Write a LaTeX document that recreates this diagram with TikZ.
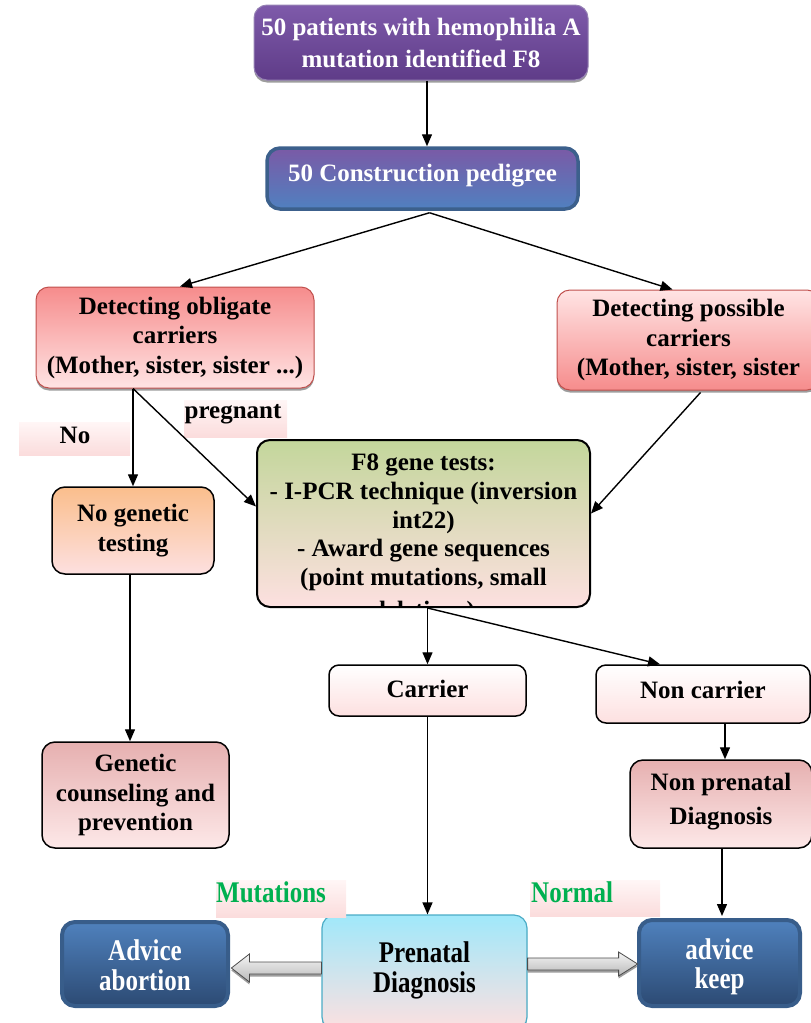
\documentclass[tikz,border=0pt]{standalone}
\usepackage{fontspec}
\setmainfont{Liberation Serif}
\usepackage{graphicx}
\usetikzlibrary{arrows.meta,calc,shadows}

\definecolor{purpT}{RGB}{126,90,170}
\definecolor{purpB}{RGB}{95,60,136}
\definecolor{purpD}{RGB}{150,130,180}
\definecolor{pedT}{RGB}{122,90,166}
\definecolor{pedB}{RGB}{80,128,192}
\definecolor{pedD}{RGB}{60,96,140}
\definecolor{redD}{RGB}{192,80,77}
\definecolor{redM}{RGB}{246,140,140}
\definecolor{pinkL}{RGB}{255,228,228}
\definecolor{greenT}{RGB}{195,214,155}
\definecolor{pinkB}{RGB}{253,224,224}
\definecolor{orangeT}{RGB}{250,190,140}
\definecolor{roseT}{RGB}{230,176,176}
\definecolor{roseB}{RGB}{253,232,232}
\definecolor{cyanT}{RGB}{160,232,250}
\definecolor{cyanD}{RGB}{75,172,198}
\definecolor{blueT}{RGB}{79,129,189}
\definecolor{blueB}{RGB}{44,74,115}
\definecolor{blueD}{RGB}{56,93,138}
\definecolor{lblT}{RGB}{255,246,246}
\definecolor{lblB}{RGB}{251,220,220}
\definecolor{okgreen}{RGB}{0,176,80}

\newcommand\talltext[1]{\scalebox{1}[1.2]{#1}}
% shift text vertically without changing the box it occupies
\newcommand\nudge[2]{\raisebox{#1}[\height][\depth]{#2}}

\begin{document}
\begin{tikzpicture}[x=1pt,y=-1pt,
  font={\bfseries\fontsize{25}{29.5}\selectfont},
  box/.style={rounded corners=13pt, align=center, inner sep=0pt, line width=1.5pt, draw=black},
  softshadow/.style={drop shadow={shadow xshift=0pt, shadow yshift=-2.5pt, fill=black!55, opacity=0.7}},
  conn/.style={line width=1.4pt, -{Triangle[length=12pt,width=10pt]}},
  blockarrow/.style={top color=gray!8, bottom color=gray!55, draw=black!70, line width=0.8pt, softshadow},
  lblbg/.style={inner sep=0pt, top color=lblT, bottom color=lblB},
  greentext/.style={text=okgreen, inner sep=0pt, anchor=west}]

\useasboundingbox (0,0) rectangle (811,1023);

% --- top of the flow ---
\node[box, softshadow, minimum width=334pt, minimum height=75pt, top color=purpT, bottom color=purpB,
      draw=purpD, line width=1pt, text=white, font={\bfseries\fontsize{25}{32}\selectfont}]
  (top) at (421,42.5) {50 patients with hemophilia A\\mutation identified F8};

\node[box, minimum width=311pt, minimum height=61pt, top color=pedT, bottom color=pedB,
      draw=pedD, line width=3.5pt, text=white]
  (ped) at (422.5,178.5) {\nudge{3pt}{50 Construction pedigree}};

% --- carrier detection ---
\node[box, softshadow, minimum width=278pt, minimum height=101pt, top color=redM, bottom color=pinkL,
      draw=redD, line width=1pt]
  (obl) at (175,337.5) {Detecting obligate\\carriers\\(Mother, sister, sister ...)};

\node[box, softshadow, minimum width=263pt, minimum height=100pt, top color=pinkL, bottom color=redM,
      draw=redD, line width=1pt]
  (pos) at (688.5,340) {Detecting possible\\carriers\\(Mother, sister, sister};

% --- gene tests ---
\node[box, minimum width=333pt, minimum height=167pt, top color=greenT, bottom color=pinkB, line width=2pt]
  (f8) at (423.5,523.5) {};
\begin{scope}
  \clip[rounded corners=13pt] (258,441) rectangle (589,605);
  \node[align=center, inner sep=0pt, anchor=north, font={\bfseries\fontsize{25}{28.6}\selectfont}]
    (f8text) at (423.5,454) {F8 gene tests:\\- I-PCR technique (inversion\\int22)\\- Award gene sequences\\(point mutations, small\\[5pt]deletions)};
\end{scope}

\node[box, minimum width=162pt, minimum height=87pt, top color=orangeT, bottom color=pinkB,
      font={\bfseries\fontsize{25}{30}\selectfont}]
  (nogen) at (133,530.5) {No genetic\\testing};

\node[box, minimum width=187pt, minimum height=106pt, top color=roseT, bottom color=roseB]
  (gc) at (135.5,795) {Genetic\\counseling and\\prevention};

% --- results ---
\node[box, rounded corners=10pt, minimum width=197pt, minimum height=51pt, top color=white, bottom color=pinkB]
  (car) at (427.5,690.5) {\nudge{1.5pt}{Carrier}};
\node[box, rounded corners=10pt, minimum width=214pt, minimum height=58pt, top color=white, bottom color=pinkB]
  (noncar) at (703,694) {\nudge{4pt}{Non carrier}};

\node[box, minimum width=182pt, minimum height=88pt, top color=roseT, bottom color=roseB,
      font={\bfseries\fontsize{25}{34}\selectfont}]
  (nonpre) at (721,804) {\nudge{2pt}{Non prenatal}\\\nudge{2pt}{Diagnosis}};

% --- prenatal stage ---
\node[box, softshadow, minimum width=205pt, minimum height=115pt, top color=cyanT, bottom color=pinkB,
      draw=cyanD, line width=1.2pt]
  (pre) at (424.5,972.5) {};
\node[align=center, inner sep=0pt] (pretext) at (424.5,970.5) {\talltext{Prenatal}\\\talltext{Diagnosis}};

\node[box, minimum width=166pt, minimum height=84pt, top color=blueT, bottom color=blueB,
      draw=blueD, line width=4pt, text=white]
  (abort) at (145,964) {\nudge{-1pt}{\talltext{Advice}}\\\nudge{-1pt}{\talltext{abortion}}};
\node[box, minimum width=161pt, minimum height=86pt, top color=blueT, bottom color=blueB,
      draw=blueD, line width=4pt, text=white]
  (keep) at (719.5,963) {\nudge{-4pt}{\talltext{advice}}\\\nudge{-4pt}{\talltext{keep}}};

% --- branch labels ---
\node[lblbg, minimum width=111pt, minimum height=33pt] (nobg) at (74.5,438.5) {};
\node[inner sep=0pt] (nolbl) at (75,435) {No};
\node[lblbg, minimum width=103pt, minimum height=37pt] (pregbg) at (235.5,418.5) {};
\node[inner sep=0pt] (preglbl) at (233,414) {pregnant};
\node[lblbg, minimum width=130pt, minimum height=37pt] (mutbg) at (281,898.5) {};
\node[greentext] (mutlbl) at (216,892) {\talltext{Mutations}};
\node[lblbg, minimum width=130pt, minimum height=36pt] (normbg) at (595,898) {};
\node[greentext] (normlbl) at (531,892) {\talltext{Normal}};

% --- connectors ---
\draw[conn] (top.south) ++(6,0) -- ($(ped.north)+(4.5,0)$);
\draw[conn] ($(ped.south)+(7,2)$) -- ($(obl.north)+(5,0)$);
\draw[conn] ($(ped.south)+(7,2)$) -- ($(pos.north)+(-16,0)$);
\draw[conn] (nogen.north |- obl.south) -- (nogen.north);
\draw[conn] (nogen.north |- obl.south) -- ($(f8.west)+(0,-17)$);
\draw[conn] ($(pos.south)+(12,2)$) -- ($(f8.east)+(0,-10)$);
\draw[conn] ($(nogen.south)+(-3,0)$) -- ($(gc.north)+(-5.5,0)$);
\draw[conn] (car.north |- f8.south) -- (car.north);
\draw[conn] (car.north |- f8.south) -- ($(noncar.north)+(-43,0)$);
\draw[conn] (car.south) -- (car.south |- pre.north);
\draw[conn] ($(noncar.south)+(22,0)$) -- ($(nonpre.north)+(4,0)$);
\draw[conn] ($(nonpre.south)+(1,0)$) -- ($(keep.north)+(2.5,-2)$);

% --- block arrows out of the prenatal diagnosis ---
\path[blockarrow] ($(pre.west)+(0,-10.5)$) -- ++(-72,0) -- ++(0,-8) -- ++(-18,14) -- ++(18,14)
  -- ++(0,-8) -- ++(72,0) -- cycle;
\path[blockarrow] ($(pre.east)+(0,-14.5)$) -- ++(91,0) -- ++(0,-6) -- ++(19,12) -- ++(-19,12)
  -- ++(0,-6) -- ++(-91,0) -- cycle;

\end{tikzpicture}
\end{document}
